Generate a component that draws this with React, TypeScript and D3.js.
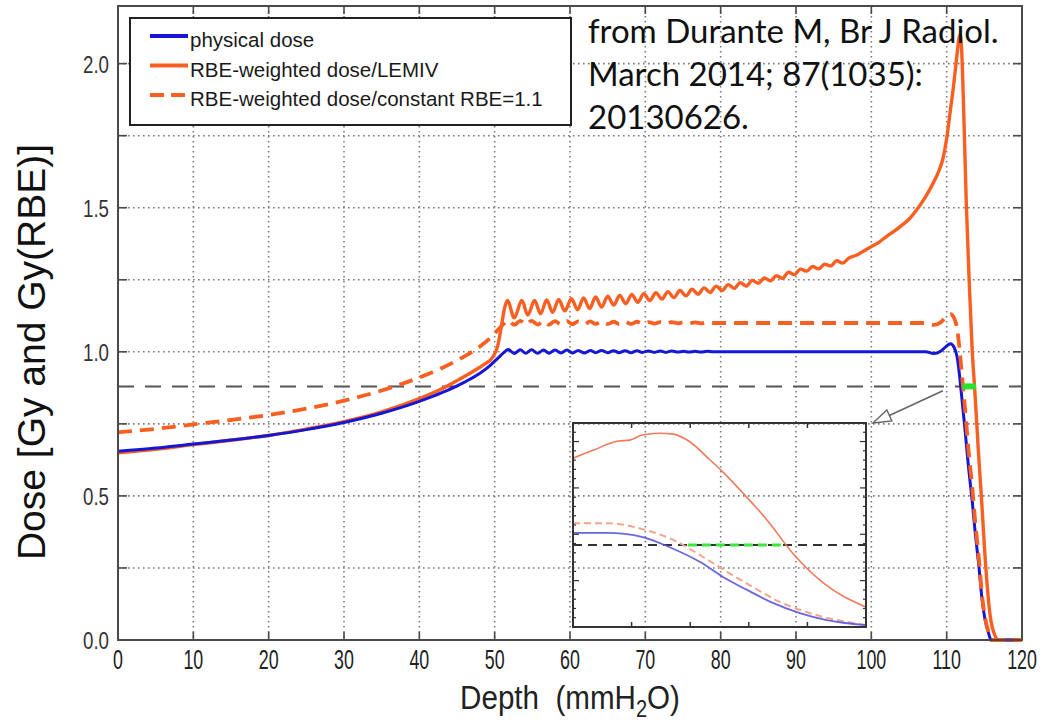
import React from 'react';
import * as d3 from 'd3';

// --- data: [depth (mm H2O), dose] ---
const physicalDose: [number, number][] = [
  [0, 0.655], [5, 0.666], [10, 0.68], [15, 0.694], [20, 0.71], [25, 0.73], [30, 0.755],
  [35, 0.787], [40, 0.828], [43, 0.858], [46, 0.895], [48, 0.925], [49.5, 0.955],
  [50.5, 0.98], [51.2, 0.997], [51.8, 1.008],
  [52.6, 0.994], [53.4, 1.007], [54.1, 0.995], [54.9, 1.007], [55.7, 0.995], [56.5, 1.006],
  [57.2, 0.995], [58.0, 1.006], [58.8, 0.996], [59.6, 1.006], [60.3, 0.996], [61.1, 1.005],
  [61.9, 0.996], [62.7, 1.005], [63.4, 0.997], [64.2, 1.005], [65.0, 0.997], [65.8, 1.004],
  [66.5, 0.997], [67.3, 1.004], [68.1, 0.997], [68.9, 1.004], [69.6, 0.998], [70.4, 1.003],
  [71.2, 0.998], [72.0, 1.003], [72.7, 0.998], [73.5, 1.003], [74.3, 0.999], [75.1, 1.002],
  [75.8, 0.999], [76.6, 1.002], [77.4, 0.999], [78.2, 1.002], [79.0, 1.0],
  [85, 1.0], [95, 1.0], [105, 1.0], [107.2, 1.0], [108.3, 0.994], [109.2, 1.002],
  [109.9, 1.018], [110.5, 1.028], [111.0, 1.015], [111.4, 0.98], [111.7, 0.92], [111.9, 0.87],
  [112.4, 0.74], [112.9, 0.6], [113.4, 0.48], [113.8, 0.37], [114.3, 0.25], [114.7, 0.14],
  [115.1, 0.07], [115.5, 0.03], [115.9, 0], [120, 0],
];

const lemivDose: [number, number][] = [
  [0, 0.65], [5, 0.662], [10, 0.678], [15, 0.693], [20, 0.71], [25, 0.732], [30, 0.758],
  [35, 0.792], [40, 0.838], [43, 0.872], [45, 0.9], [47, 0.93], [48.5, 0.955], [49.7, 0.98],
  [50.4, 1.02], [50.9, 1.09], [51.3, 1.15], [51.7, 1.178],
  [52.6, 1.118], [53.6, 1.178], [54.4, 1.128], [55.3, 1.178], [56.1, 1.132], [56.9, 1.18],
  [57.7, 1.137], [58.5, 1.182], [59.3, 1.142], [60.2, 1.184], [61.0, 1.146], [61.8, 1.187],
  [62.6, 1.15], [63.4, 1.19], [64.2, 1.155], [65.0, 1.193], [65.8, 1.162], [66.6, 1.196],
  [67.4, 1.167], [68.2, 1.199], [69.0, 1.172], [69.8, 1.202], [70.6, 1.178], [71.4, 1.205],
  [72.2, 1.183], [73.0, 1.209], [73.8, 1.188], [74.6, 1.213], [75.4, 1.194], [76.2, 1.217],
  [77.0, 1.2], [77.8, 1.222], [78.6, 1.206], [79.4, 1.228], [80.2, 1.213], [81.0, 1.233],
  [81.8, 1.22], [82.6, 1.24], [83.4, 1.228], [84.2, 1.248], [85.0, 1.238], [85.8, 1.256],
  [86.6, 1.246], [87.4, 1.264], [88.2, 1.255], [89.0, 1.276], [89.8, 1.268], [90.6, 1.287],
  [91.4, 1.28], [92.2, 1.296], [93.0, 1.288], [93.8, 1.304], [94.6, 1.298], [95.4, 1.316],
  [96.2, 1.308], [97.0, 1.325], [98.0, 1.335], [99.0, 1.35], [100, 1.365], [101, 1.38],
  [102, 1.4], [103, 1.418], [104, 1.438], [105, 1.46], [106, 1.492], [107, 1.53],
  [108, 1.575], [109, 1.63], [109.5, 1.67], [110, 1.74], [110.5, 1.84], [110.9, 1.92],
  [111.2, 1.99], [111.45, 2.05], [111.65, 2.09], [111.8, 2.1], [112.0, 2.04], [112.3, 1.8],
  [112.6, 1.52], [113.0, 1.24], [113.4, 1.0], [113.7, 0.88], [114.2, 0.66], [114.6, 0.5],
  [115.2, 0.25], [115.7, 0.1], [116.2, 0.03], [116.9, 0], [120, 0],
];

// constant RBE curve is the physical dose scaled by RBE = 1.1
const rbeConstant = 1.1;
const constRbeDose: [number, number][] = physicalDose.map(([x, d]) => [x, d * rbeConstant]);

const threshold = 0.88;
const greenSpan = [112.1, 113.9];

const xTicks = d3.range(0, 121, 10);
const yLabelTicks = [0, 0.5, 1.0, 1.5, 2.0];
const yGridTicks = d3.range(0.25, 2.01, 0.25);

const legendItems = [
  { label: 'physical dose', color: '#1616d4', dash: '' },
  { label: 'RBE-weighted dose/LEMIV', color: '#fa5f22', dash: '' },
  { label: 'RBE-weighted dose/constant RBE=1.1', color: '#fa5f22', dash: '14 7' },
];

const citation = ['from Durante M, Br J Radiol.', 'March 2014; 87(1035):', '20130626.'];

// inset: close-up of the distal fall-off (inset units)
const insetLemiv: [number, number][] = [
  [0, 3.64], [0.34, 3.81], [0.77, 4.01], [0.97, 4.03], [1.18, 4.14], [1.48, 4.18], [1.71, 4.16],
  [2.0, 3.99], [2.29, 3.66], [2.56, 3.34], [2.9, 2.89], [3.31, 2.31], [3.75, 1.59], [4.27, 0.95],
  [5.0, 0.43],
];
const insetPhysical: [number, number][] = [
  [0, 2.03], [0.58, 2.03], [1.19, 1.94], [1.65, 1.72], [2.17, 1.4], [2.56, 1.08], [2.97, 0.8],
  [3.41, 0.52], [3.87, 0.3], [4.33, 0.15], [5.0, 0.04],
];
const insetConst: [number, number][] = [
  [0, 2.24], [0.58, 2.24], [1.19, 2.11], [1.71, 1.88], [2.22, 1.51], [2.63, 1.19], [3.07, 0.86],
  [3.53, 0.54], [4.04, 0.3], [5.0, 0.04],
];
const insetThreshold = 1.77;
const insetGreen = [1.96, 3.57];

const W = 1043;
const H = 725;
const plot = { left: 118, right: 1022, top: 6, bottom: 640 };
const inset = { left: 573, top: 423, width: 293, height: 204 };

const x = d3.scaleLinear().domain([0, 120]).range([plot.left, plot.right]);
const y = d3.scaleLinear().domain([0, 2.2]).range([plot.bottom, plot.top]);
const ix = d3.scaleLinear().domain([0, 5]).range([inset.left, inset.left + inset.width]);
const iy = d3.scaleLinear().domain([0, 4.4]).range([inset.top + inset.height, inset.top]);

const line = d3.line<[number, number]>().x(d => x(d[0])).y(d => y(d[1])).curve(d3.curveMonotoneX);
const insetLine = d3.line<[number, number]>().x(d => ix(d[0])).y(d => iy(d[1])).curve(d3.curveMonotoneX);

const gridStyle = { stroke: '#7a7a7a', strokeWidth: 1.6, strokeDasharray: '1.6 3.4' };
const frameColor = '#4a4a4a';
const tickFont = 'Liberation Sans, Arial, sans-serif';

export default function App() {
  // arrow from the main curve to the inset corner
  const a0 = [x(109.5), y(0.865)];
  const a1 = [inset.left + inset.width + 7, inset.top];
  const dx = a1[0] - a0[0], dy = a1[1] - a0[1];
  const len = Math.hypot(dx, dy);
  const ux = dx / len, uy = dy / len;
  const headL = 18, headW = 6;
  const bx = a1[0] - ux * headL, by = a1[1] - uy * headL;
  const head = `M${a1[0]},${a1[1]} L${bx - uy * headW},${by + ux * headW} L${bx + uy * headW},${by - ux * headW} Z`;

  return (
    <svg width={W} height={H} style={{ position: 'absolute', left: 0, top: 0, background: '#fff' }}>
      {/* grid */}
      <g>
        {xTicks.filter(t => t > 0 && t < 120).map(t => (
          <line key={'gx' + t} x1={x(t)} x2={x(t)} y1={plot.top} y2={plot.bottom} {...gridStyle} />
        ))}
        {yGridTicks.map(t => (
          <line key={'gy' + t} x1={plot.left} x2={plot.right} y1={y(t)} y2={y(t)} {...gridStyle} />
        ))}
      </g>

      {/* 88% threshold */}
      <line x1={plot.left} x2={plot.right} y1={y(threshold)} y2={y(threshold)}
        stroke="#555" strokeWidth={2} strokeDasharray="16 11" />

      {/* inset */}
      <g>
        <line x1={inset.left} x2={inset.left + inset.width} y1={iy(insetThreshold)} y2={iy(insetThreshold)}
          stroke="#333" strokeWidth={2} strokeDasharray="9 6" />
        <line x1={ix(insetGreen[0])} x2={ix(insetGreen[1])} y1={iy(insetThreshold)} y2={iy(insetThreshold)}
          stroke="#3be83b" strokeWidth={3} strokeDasharray="9 5" />
        <path d={insetLine(insetLemiv) || ''} fill="none" stroke="#f07a5c" strokeWidth={1.6} />
        <path d={insetLine(insetConst) || ''} fill="none" stroke="#f5a48c" strokeWidth={2} strokeDasharray="7 4" />
        <path d={insetLine(insetPhysical) || ''} fill="none" stroke="#5a55dc" strokeWidth={1.8} opacity={0.9} />
        <rect x={inset.left} y={inset.top} width={inset.width} height={inset.height}
          fill="none" stroke="#333" strokeWidth={2} />
        {[1, 2, 3, 4].map(t => (
          <g key={'ixt' + t}>
            <line x1={ix(t)} x2={ix(t)} y1={inset.top} y2={inset.top + 5} stroke="#333" strokeWidth={1.5} />
            <line x1={ix(t)} x2={ix(t)} y1={inset.top + inset.height} y2={inset.top + inset.height - 5} stroke="#333" strokeWidth={1.5} />
          </g>
        ))}
        {d3.range(0.2, 4.4, 0.2).map((t, i) => {
          const major = (i + 1) % 5 === 0;
          const l = major ? 6 : 3;
          return (
            <g key={'iyt' + i}>
              <line x1={inset.left} x2={inset.left + l} y1={iy(t)} y2={iy(t)} stroke="#333" strokeWidth={1.2} />
              <line x1={inset.left + inset.width} x2={inset.left + inset.width - l} y1={iy(t)} y2={iy(t)} stroke="#333" strokeWidth={1.2} />
            </g>
          );
        })}
      </g>

      {/* curves */}
      <path d={line(lemivDose) || ''} fill="none" stroke="#fa5f22" strokeWidth={3.4} strokeLinejoin="round" />
      <path d={line(physicalDose) || ''} fill="none" stroke="#1616d4" strokeWidth={3} strokeLinejoin="round" />
      <path d={line(constRbeDose) || ''} fill="none" stroke="#fa5f22" strokeWidth={3.8} strokeDasharray="14 8" />

      {/* green range at the threshold */}
      <line x1={x(greenSpan[0])} x2={x(greenSpan[1])} y1={y(threshold)} y2={y(threshold)}
        stroke="#2ee02e" strokeWidth={6} />

      {/* arrow */}
      <line x1={a0[0]} y1={a0[1]} x2={bx} y2={by} stroke="#666" strokeWidth={1.6} />
      <path d={head} fill="#fff" stroke="#666" strokeWidth={1.4} />

      {/* legend */}
      <g>
        <rect x={130} y={18} width={441} height={107} fill="#fff" stroke="#222" strokeWidth={2} />
        {legendItems.map((it, i) => (
          <g key={it.label} transform={`translate(0,${36 + i * 29.5})`}>
            <line x1={150} x2={188} y1={0} y2={0} stroke={it.color} strokeWidth={4}
              strokeDasharray={it.dash || undefined} />
            <text x={190} y={11} fontFamily={tickFont} fontSize={20.5} fill="#1a1a1a">{it.label}</text>
          </g>
        ))}
      </g>

      {/* citation */}
      <g fontFamily="Lato, 'Open Sans', sans-serif" fontSize={33} fill="#111">
        {citation.map((s, i) => (
          <text key={i} x={588} y={43 + i * 43}>{s}</text>
        ))}
      </g>

      {/* frame and ticks */}
      <rect x={plot.left} y={plot.top} width={plot.right - plot.left} height={plot.bottom - plot.top}
        fill="none" stroke={frameColor} strokeWidth={2} />
      {xTicks.filter(t => t > 0 && t < 120).map(t => (
        <g key={'xt' + t}>
          <line x1={x(t)} x2={x(t)} y1={plot.bottom} y2={plot.bottom - 8} stroke={frameColor} strokeWidth={1.6} />
          <line x1={x(t)} x2={x(t)} y1={plot.top} y2={plot.top + 8} stroke={frameColor} strokeWidth={1.6} />
        </g>
      ))}
      {yGridTicks.map(t => (
        <g key={'yt' + t}>
          <line x1={plot.left} x2={plot.left + 9} y1={y(t)} y2={y(t)} stroke={frameColor} strokeWidth={1.6} />
          <line x1={plot.right} x2={plot.right - 9} y1={y(t)} y2={y(t)} stroke={frameColor} strokeWidth={1.6} />
        </g>
      ))}

      {/* tick labels */}
      {xTicks.map(t => (
        <text key={'xl' + t} transform={`translate(${x(t)},${669}) scale(0.66,1)`} textAnchor="middle"
          fontFamily={tickFont} fontSize={27} fill="#222">{t}</text>
      ))}
      {yLabelTicks.map(t => (
        <text key={'yl' + t} transform={`translate(${plot.left - 9},${y(t) + 9}) scale(0.78,1)`} textAnchor="end"
          fontFamily={tickFont} fontSize={24} fill="#333">{t.toFixed(1)}</text>
      ))}

      {/* axis titles */}
      <text transform={`translate(570,709) scale(0.87,1)`} textAnchor="middle" fontFamily={tickFont}
        fontSize={34} fill="#222" style={{ whiteSpace: 'pre' }}>
        {'Depth  (mmH'}<tspan fontSize={23} dy={8}>2</tspan><tspan dy={-8}>O)</tspan>
      </text>
      <text transform={`translate(45,352) rotate(-90)`} textAnchor="middle" fontFamily={tickFont}
        fontSize={39} fill="#111">Dose [Gy and Gy(RBE)]</text>
    </svg>
  );
}
